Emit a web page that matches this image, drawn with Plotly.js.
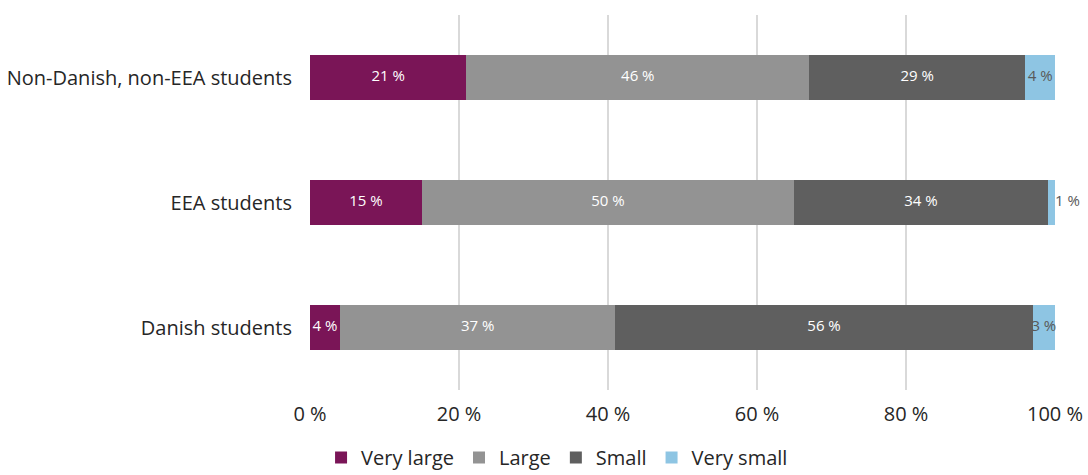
<!DOCTYPE html>
<html>
<head>
<meta charset="utf-8">
<script src="https://cdn.plot.ly/plotly-3.0.1.min.js"></script>
<style>html,body{margin:0;padding:0;background:#fff;}#chart{width:1088px;height:475px;}</style>
</head>
<body>
<div id="chart"></div>
<script>
const categories = ['Danish students', 'EEA students', 'Non-Danish, non-EEA students'];
const seriesNames = ['Very large', 'Large', 'Small', 'Very small'];
const veryLarge = [4, 15, 21];
const large = [37, 50, 46];
const small = [56, 34, 29];
const verySmall = [3, 1, 4];
const xTicks = [0, 20, 40, 60, 80, 100];

const seriesValues = [veryLarge, large, small, verySmall];
const colors = ['#7a1557', '#939393', '#5f5f5f', '#8ec5e3'];
const labelColors = ['#ffffff', '#ffffff', '#ffffff', '#595959'];
const FONT = 'Open Sans, Noto Sans, sans-serif';

const traces = seriesValues.map((vals, i) => ({
  type: 'bar',
  orientation: 'h',
  name: seriesNames[i],
  y: categories,
  x: vals,
  marker: {color: colors[i], line: {width: 0}},
  hoverinfo: 'none'
}));

// data labels through the axes
const cum = categories.map(() => 0);
seriesValues.forEach((vals, i) => {
  const xs = [], ys = [], txt = [], pos = [], col = [];
  vals.forEach((v, j) => {
    const start = cum[j];
    cum[j] += v;
    ys.push(categories[j]);
    txt.push(v + ' %');
    col.push(labelColors[i]);
    if (v < 2) { xs.push(cum[j]); pos.push('middle right'); col[col.length-1] = '#595959'; }
    else { xs.push(start + v / 2); pos.push('middle center'); }
  });
  traces.push({
    type: 'scatter', mode: 'text', x: xs, y: ys, text: txt,
    textposition: pos, textfont: {family: FONT, size: 15, color: col},
    showlegend: false, hoverinfo: 'none', cliponaxis: false
  });
});

const layout = {
  width: 1088, height: 475,
  margin: {l: 310, r: 33, t: 15, b: 85, autoexpand: false},
  paper_bgcolor: '#ffffff', plot_bgcolor: '#ffffff',
  barmode: 'stack', bargap: 0.645,
  font: {family: FONT, size: 20, color: '#262626'},
  xaxis: {
    range: [0, 100], tickvals: xTicks, ticktext: xTicks.map(t => t + ' %'),
    showgrid: true, gridcolor: '#d9d9d9', gridwidth: 2, zeroline: false,
    showline: false, ticks: '', ticklen: 0, ticklabelstandoff: 10,
    tickfont: {size: 20, color: '#262626'}, fixedrange: true
  },
  yaxis: {
    type: 'category', categoryorder: 'array', categoryarray: categories,
    range: [-0.5, 2.5], showgrid: false, zeroline: false, showline: false,
    ticks: '', ticklabelstandoff: 17, tickfont: {size: 20, color: '#262626'}, fixedrange: true
  },
  showlegend: true,
  legend: {
    orientation: 'h', xref: 'container', yref: 'paper',
    x: 0.512, xanchor: 'center', y: -0.18, yanchor: 'middle',
    font: {size: 20, color: '#262626'}, itemwidth: 30, traceorder: 'normal',
    bgcolor: 'rgba(0,0,0,0)'
  }
};

Plotly.newPlot('chart', traces, layout, {staticPlot: true, displayModeBar: false});
</script>
</body>
</html>
